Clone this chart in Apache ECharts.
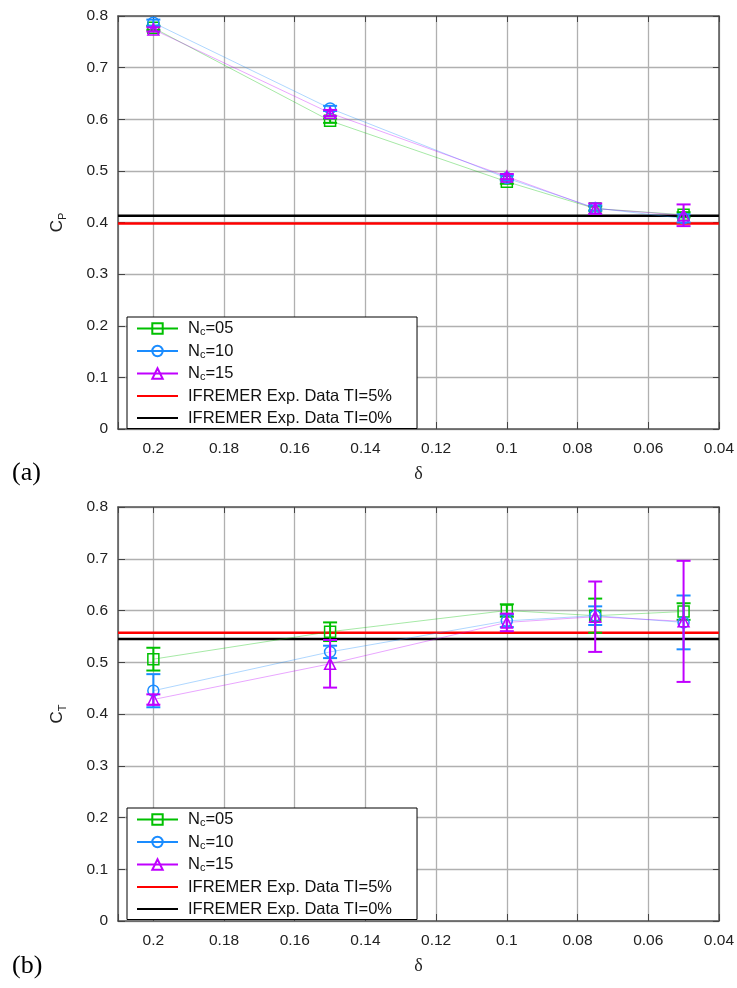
<!DOCTYPE html>
<html>
<head>
<meta charset="utf-8">
<script src="https://cdn.jsdelivr.net/npm/echarts@6/dist/echarts.min.js"></script>
<style>
html,body{margin:0;padding:0;background:#fff;}
#chart{width:737px;height:988px;}
</style>
</head>
<body>
<div id="chart"></div>
<script>
// ---- data ----
const deltas = [0.2, 0.15, 0.1, 0.075, 0.05];

const cp05 = [0.777, 0.597, 0.479, 0.427, 0.415];
const cp10 = [0.787, 0.621, 0.486, 0.428, 0.408];
const cp15 = [0.774, 0.612, 0.489, 0.427, 0.414];
const cp05Err = [0.004, 0.004, 0.004, 0.004, 0.005];
const cp10Err = [0.006, 0.005, 0.005, 0.005, 0.008];
const cp15Err = [0.004, 0.006, 0.005, 0.010, 0.021];
const cpRefTI5 = 0.398;
const cpRefTI0 = 0.413;

const ct05 = [0.506, 0.559, 0.600, 0.590, 0.598];
const ct10 = [0.445, 0.520, 0.580, 0.590, 0.577];
const ct15 = [0.428, 0.497, 0.577, 0.588, 0.579];
const ct05Err = [0.022, 0.018, 0.012, 0.033, 0.016];
const ct10Err = [0.032, 0.012, 0.012, 0.018, 0.052];
const ct15Err = [0.010, 0.046, 0.017, 0.068, 0.117];
const ctRefTI5 = 0.557;
const ctRefTI0 = 0.545;

const xMin = 0.04, xMax = 0.21, xStep = 0.02;
const yMin = 0, yMax = 0.8, yStep = 0.1;

const seriesNames = ['Nc=05', 'Nc=10', 'Nc=15', 'IFREMER Exp. Data TI=5%', 'IFREMER Exp. Data TI=0%'];
const panelLabels = ['(a)', '(b)'];
const yNames = [['C', 'P'], ['C', 'T']];
const xName = 'δ';

// ---- styles ----
const C5 = '#00c000', C10 = '#1a8cff', C15 = '#c000ff';
const FONT = 'Liberation Sans';
const AX = '#555';
const GRIDC = '#b0b0b0';

const grids = [
  {left: 118, top: 16, width: 603, height: 413},
  {left: 118, top: 507, width: 603, height: 414}
];

function pts(ys) { return deltas.map((d, i) => [d, ys[i]]); }
function errPts(ys, es) { return deltas.map((d, i) => [d, ys[i] - es[i], ys[i] + es[i]]); }

function fmtX(v) {
  if (Math.abs(v - xMax) < 1e-9) return '';
  return String(+v.toFixed(3));
}
function fmtY(v) { return String(+v.toFixed(2)); }

const xAxes = [], yAxes = [], series = [], legends = [];

grids.forEach((g, gi) => {
  xAxes.push({
    gridIndex: gi, type: 'value', min: xMin, max: xMax, interval: xStep, inverse: true,
    position: 'bottom',
    axisLine: {show: true, onZero: false, lineStyle: {color: AX, width: 1.5}},
    axisTick: {show: true, inside: true, length: 7, lineStyle: {color: '#444', width: 1}},
    axisLabel: {margin: 12, fontSize: 15.5, color: '#222', fontFamily: FONT, formatter: fmtX},
    splitLine: {show: true, lineStyle: {color: GRIDC, width: 1.3}},
    name: xName, nameLocation: 'middle', nameGap: 36,
    nameTextStyle: {fontFamily: 'Liberation Serif', fontSize: 18, color: '#222'}
  });
  xAxes.push({
    gridIndex: gi, type: 'value', min: xMin, max: xMax, interval: xStep, inverse: true,
    position: 'top',
    axisLine: {show: true, onZero: false, lineStyle: {color: AX, width: 1.5}},
    axisTick: {show: true, inside: true, length: 6, lineStyle: {color: '#444', width: 1}},
    axisLabel: {show: false}, splitLine: {show: false}
  });
  yAxes.push({
    gridIndex: gi, type: 'value', min: yMin, max: yMax, interval: yStep,
    position: 'left',
    axisLine: {show: true, onZero: false, lineStyle: {color: AX, width: 1.5}},
    axisTick: {show: true, inside: true, length: 7, lineStyle: {color: '#444', width: 1}},
    axisLabel: {margin: 10, fontSize: 15.5, color: '#222', fontFamily: FONT, formatter: fmtY},
    splitLine: {show: true, lineStyle: {color: GRIDC, width: 1.3}},
    name: '{c|' + yNames[gi][0] + '}{s|' + yNames[gi][1] + '}',
    nameLocation: 'middle', nameGap: 50, nameRotate: 90,
    nameTextStyle: {
      color: '#222', fontFamily: FONT,
      rich: {
        c: {fontSize: 17, fontFamily: FONT, color: '#222', lineHeight: 20, verticalAlign: 'middle'},
        s: {fontSize: 11, fontFamily: FONT, color: '#222', lineHeight: 22, verticalAlign: 'bottom'}
      }
    }
  });
  yAxes.push({
    gridIndex: gi, type: 'value', min: yMin, max: yMax, interval: yStep,
    position: 'right',
    axisLine: {show: true, onZero: false, lineStyle: {color: AX, width: 1.5}},
    axisTick: {show: true, inside: true, length: 6, lineStyle: {color: '#444', width: 1}},
    axisLabel: {show: false}, splitLine: {show: false}
  });
});

function lineSeries(name, color, symbol, ys, gi, z) {
  return {
    type: 'line', name: name, xAxisIndex: gi * 2, yAxisIndex: gi * 2,
    data: pts(ys), symbol: symbol, symbolSize: 11, showSymbol: true,
    lineStyle: {color: color, width: 1, opacity: 0.35},
    itemStyle: {color: 'rgba(255,255,255,0)', borderColor: color, borderWidth: 1.5},
    z: z, animation: false, silent: true
  };
}
function errSeries(name, color, ys, es, gi, z) {
  return {
    type: 'custom', name: name, xAxisIndex: gi * 2, yAxisIndex: gi * 2,
    data: errPts(ys, es), encode: {x: 0, y: [1, 2]}, z: z, animation: false, silent: true,
    renderItem: function (params, api) {
      const x = api.value(0);
      const a = api.coord([x, api.value(1)]);
      const b = api.coord([x, api.value(2)]);
      const hw = 7;
      const st = {stroke: color, lineWidth: 2};
      return {type: 'group', children: [
        {type: 'line', shape: {x1: a[0], y1: a[1], x2: b[0], y2: b[1]}, style: st},
        {type: 'line', shape: {x1: a[0] - hw, y1: a[1], x2: a[0] + hw, y2: a[1]}, style: st},
        {type: 'line', shape: {x1: b[0] - hw, y1: b[1], x2: b[0] + hw, y2: b[1]}, style: st}
      ]};
    }
  };
}
function refSeries(name, color, v, gi) {
  return {
    type: 'line', name: name, xAxisIndex: gi * 2, yAxisIndex: gi * 2,
    data: [[xMax, v], [xMin, v]], symbol: 'none', showSymbol: false,
    lineStyle: {color: color, width: 2.5}, itemStyle: {color: color},
    z: 3, animation: false, silent: true
  };
}

const panels = [
  {v: [cp05, cp10, cp15], e: [cp05Err, cp10Err, cp15Err], r: [cpRefTI5, cpRefTI0]},
  {v: [ct05, ct10, ct15], e: [ct05Err, ct10Err, ct15Err], r: [ctRefTI5, ctRefTI0]}
];
const cols = [C5, C10, C15];
const syms = ['rect', 'circle', 'triangle'];

panels.forEach((p, gi) => {
  series.push(refSeries(seriesNames[3], '#ff0000', p.r[0], gi));
  series.push(refSeries(seriesNames[4], '#000000', p.r[1], gi));
  for (let k = 0; k < 3; k++) {
    series.push(lineSeries(seriesNames[k], cols[k], syms[k], p.v[k], gi, 4 + k * 2));
    series.push(errSeries('err' + gi + '_' + k, cols[k], p.v[k], p.e[k], gi, 5 + k * 2));
  }
  legends.push({
    left: 127, top: grids[gi].top + 301,
    orient: 'vertical',
    backgroundColor: '#fff', borderColor: '#000', borderWidth: 1,
    padding: [3, 25, 2, 9],
    itemGap: 5, itemWidth: 41, itemHeight: 13,
    selectedMode: false,
    lineStyle: {width: 2, opacity: 1},
    data: seriesNames.map((n, i) => i < 3
      ? {name: n, lineStyle: {width: 2, opacity: 1}}
      : {name: n, lineStyle: {width: 2, opacity: 1}, itemStyle: {opacity: 0}}),
    formatter: function (n) {
      if (n.indexOf('Nc=') === 0) return '{n|N}{s|c}{n|' + n.slice(2) + '}';
      return '{n|' + n + '}';
    },
    textStyle: {
      fontFamily: FONT, fontSize: 16.5, color: '#111', padding: [0, 0, 0, 5],
      rich: {
        n: {fontFamily: FONT, fontSize: 16.5, color: '#111', lineHeight: 16, verticalAlign: 'middle'},
        s: {fontFamily: FONT, fontSize: 11, color: '#111', lineHeight: 18, verticalAlign: 'bottom'}
      }
    }
  });
});

const chart = echarts.init(document.getElementById('chart'), null, {renderer: 'canvas'});
chart.setOption({
  backgroundColor: '#fff',
  animation: false,
  grid: grids,
  xAxis: xAxes,
  yAxis: yAxes,
  legend: legends,
  series: series,
  graphic: [
    {type: 'text', left: 12, top: 460, style: {text: panelLabels[0], font: '26px "Liberation Serif"', fill: '#000'}},
    {type: 'text', left: 12, top: 953, style: {text: panelLabels[1], font: '26px "Liberation Serif"', fill: '#000'}}
  ]
});
</script>
</body>
</html>
